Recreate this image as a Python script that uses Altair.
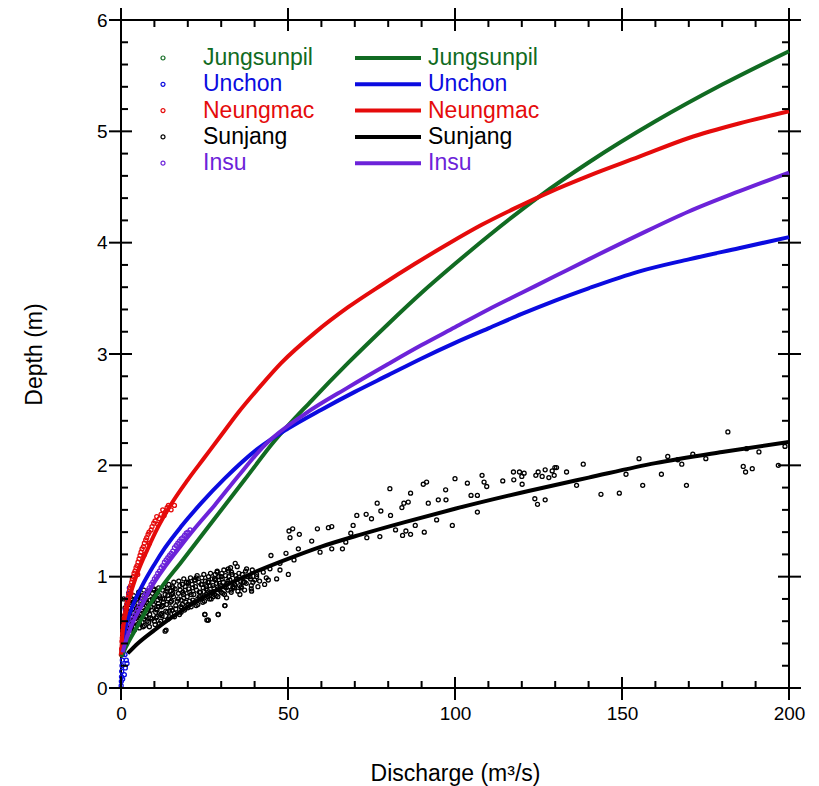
import altair as alt
import pandas as pd

stations = ["Jungsunpil", "Unchon", "Neungmac", "Sunjang", "Insu"]
colors = ["#116b22", "#0b0be0", "#e50b0b", "#000000", "#6c23d9"]

# ---- rating curves (Q in m3/s, depth in m) ----
jun_line_q = [0, 2, 5, 8, 12, 18, 28, 37, 46, 57, 68, 80, 90, 100, 110, 125, 140, 160, 180, 200]
jun_line_h = [0.28, 0.40, 0.56, 0.72, 0.90, 1.13, 1.52, 1.87, 2.22, 2.58, 2.92, 3.27, 3.55, 3.81, 4.06, 4.41, 4.72, 5.09, 5.42, 5.72]

unc_line_q = [0.3, 1, 3, 6.2, 10, 13.2, 18, 24, 31, 41, 50, 60, 70, 80, 90, 100, 110, 120, 130, 140, 155, 170, 185, 200]
unc_line_h = [0.36, 0.50, 0.70, 0.91, 1.11, 1.26, 1.45, 1.66, 1.88, 2.15, 2.33, 2.50, 2.66, 2.81, 2.96, 3.10, 3.23, 3.36, 3.48, 3.59, 3.74, 3.85, 3.95, 4.05]

neu_line_q = [0, 0.5, 1.5, 3, 5, 8, 11, 15, 20, 25, 30, 35, 42, 48, 58, 68, 78, 88, 98, 108, 118, 128, 140, 155, 170, 185, 200]
neu_line_h = [0.30, 0.50, 0.68, 0.86, 1.04, 1.25, 1.44, 1.65, 1.87, 2.07, 2.27, 2.47, 2.72, 2.92, 3.19, 3.42, 3.62, 3.81, 3.99, 4.16, 4.31, 4.45, 4.60, 4.77, 4.94, 5.07, 5.18]

sun_line_q = [2, 5, 10, 15, 20, 30, 40, 50, 60, 72, 85, 100, 122, 140, 160, 180, 200]
sun_line_h = [0.31, 0.40, 0.52, 0.63, 0.73, 0.90, 1.04, 1.16, 1.27, 1.38, 1.49, 1.61, 1.77, 1.89, 2.02, 2.12, 2.21]

ins_line_q = [0.5, 1.2, 3, 6.2, 9, 13.2, 18, 22, 28, 35, 43, 55, 68, 80, 90, 100, 110, 120, 130, 140, 155, 170, 185, 200]
ins_line_h = [0.32, 0.40, 0.55, 0.74, 0.90, 1.09, 1.28, 1.43, 1.64, 1.90, 2.18, 2.46, 2.70, 2.91, 3.08, 3.24, 3.40, 3.55, 3.70, 3.85, 4.07, 4.28, 4.46, 4.63]

# ---- observed points ----
jun_pt_q = [0.3, 0.8, 1.5, 2.5]
jun_pt_h = [0.32, 0.35, 0.40, 0.46]

unc_pt_q = [0.05, 0.1, 0.15, 0.2, 0.3, 0.4, 0.5, 0.3, 0.6, 0.8, 1.0, 0.7, 1.2, 1.5, 1.3, 1.8, 2.0, 2.3, 2.5, 1.0, 1.3, 1.6, 1.2, 1.8, 0.5]
unc_pt_h = [0.02, 0.06, 0.10, 0.15, 0.20, 0.25, 0.30, 0.35, 0.40, 0.45, 0.50, 0.55, 0.60, 0.65, 0.70, 0.75, 0.80, 0.85, 0.90, 0.12, 0.18, 0.25, 0.30, 0.22, 0.08]

neu_pt_q = [0.2, 0.4, 0.6, 0.9, 1.2, 1.5, 1.9, 2.3, 2.7, 3.2, 3.7, 4.2, 4.8, 5.4, 6.0, 6.7, 7.4, 8.1, 9.0, 9.8, 10.7, 11.5, 12.5, 13.3, 14.2, 3.0, 5.0, 7.0, 8.5, 0.1,
            0.3, 0.5, 0.8, 1.0, 1.4, 1.7, 2.1, 2.5, 2.9, 3.4, 3.9, 4.5, 5.1, 5.7, 6.3, 7.0, 7.7, 8.4, 9.3, 10.2, 11.0, 12.0, 12.9, 13.8, 15.0, 16.0]
neu_pt_h = [0.35, 0.45, 0.52, 0.60, 0.66, 0.72, 0.78, 0.84, 0.90, 0.95, 1.00, 1.05, 1.10, 1.16, 1.22, 1.27, 1.33, 1.38, 1.42, 1.48, 1.54, 1.52, 1.60, 1.58, 1.64, 0.85, 1.02, 1.20, 1.30, 0.30,
            0.42, 0.49, 0.56, 0.63, 0.69, 0.75, 0.81, 0.87, 0.92, 0.98, 1.03, 1.08, 1.13, 1.19, 1.25, 1.30, 1.35, 1.40, 1.45, 1.50, 1.47, 1.56, 1.55, 1.62, 1.60, 1.64]

ins_pt_q = [0.5, 1, 1.5, 2, 3, 4, 5, 6, 7, 8, 9, 10, 11, 12, 13, 14, 15, 16, 17, 18, 19, 20, 20.7,
            0.8, 1.3, 2.5, 3.5, 4.5, 5.5, 6.5, 7.5, 8.5, 9.5, 10.5, 11.5, 12.5, 13.5, 14.5, 15.5, 16.5, 17.5, 18.5, 19.5]
ins_pt_h = [0.33, 0.40, 0.46, 0.52, 0.58, 0.65, 0.71, 0.77, 0.83, 0.88, 0.93, 0.98, 1.03, 1.08, 1.13, 1.17, 1.21, 1.26, 1.30, 1.34, 1.37, 1.40, 1.42,
            0.37, 0.43, 0.55, 0.62, 0.68, 0.74, 0.80, 0.85, 0.90, 0.95, 1.00, 1.05, 1.10, 1.15, 1.19, 1.23, 1.28, 1.32, 1.35, 1.39]

sun_low_q = [0.8, 1.2, 1.5, 2.0, 2.3, 2.8, 3.0, 3.3, 3.6, 4.0, 4.2, 4.5, 4.8, 5.0,
             5.5, 5.8, 6.0, 6.3, 6.6, 7.0, 7.3, 7.6, 8.0, 8.3, 8.6, 9.0, 9.4, 9.8,
             10.2, 10.5, 10.8, 11.2, 11.5, 11.9, 12.2, 12.6, 13.0, 13.2, 13.5, 13.8, 14.1, 14.5, 14.8,
             15.2, 15.6, 16.0, 16.4, 16.8, 17.2, 17.6, 18.0, 18.4, 18.8, 19.2, 19.6, 20.0,
             20.5, 21.0, 21.5, 22.0, 22.5, 23.0, 23.5, 24.0, 24.5, 25.0, 25.5, 26.0, 26.5, 27.0, 27.5, 28.0, 28.5, 29.0, 29.5, 30.0,
             30.5, 31.0, 32.0, 33.0, 34.0, 35.0, 36.0, 37.0, 38.0, 39.0, 40.0,
             25.1, 25.7, 29.1, 31.1, 26.1]
sun_low_h = [0.55, 0.62, 0.70, 0.58, 0.66, 0.75, 0.52, 0.60, 0.68, 0.78, 0.55, 0.63, 0.71, 0.82,
             0.58, 0.66, 0.74, 0.80, 0.55, 0.62, 0.70, 0.77, 0.85, 0.59, 0.66, 0.73, 0.80, 0.88,
             0.57, 0.63, 0.70, 0.76, 0.83, 0.60, 0.67, 0.74, 0.80, 0.51, 0.52, 0.87, 0.62, 0.69, 0.77,
             0.84, 0.90, 0.64, 0.71, 0.78, 0.85, 0.92, 0.68, 0.75, 0.81, 0.88, 0.95, 0.72,
             0.78, 0.84, 0.90, 0.97, 0.74, 0.80, 0.86, 0.93, 0.77, 0.83, 0.89, 0.95, 0.80, 0.86, 0.92, 0.98, 0.83, 0.89, 0.94, 1.00,
             0.85, 0.91, 0.96, 0.88, 0.93, 0.98, 0.90, 0.95, 1.00, 0.92, 0.97,
             0.66, 0.61, 0.66, 0.74, 0.61]

sun_dense_q = [1.0, 1.4, 0.7, 1.2, 0.8, 2.5, 2.9, 2.2, 2.7, 2.3, 4.0, 4.4, 3.7, 4.2, 3.8,
               5.5, 5.9, 5.2, 5.7, 5.3, 7.0, 7.4, 6.7, 7.2, 6.8, 8.5, 8.9, 8.2, 8.7, 8.3,
               10.0, 10.4, 9.7, 10.2, 9.8, 11.5, 11.9, 11.2, 11.7, 11.3, 13.0, 13.4, 12.7, 13.2, 12.8,
               14.5, 14.9, 14.2, 14.7, 14.3, 16.0, 16.4, 15.7, 16.2, 15.8, 17.5, 17.9, 17.2, 17.7, 17.3,
               19.0, 19.4, 18.7, 19.2, 18.8, 21.0, 21.5, 20.6, 21.3, 20.8, 23.0, 23.5, 22.6, 23.3, 22.8,
               25.0, 25.5, 24.6, 25.3, 24.8, 27.0, 27.5, 26.6, 27.3, 26.8, 29.0, 29.5, 28.6, 29.3, 28.8,
               31.0, 31.5, 30.6, 31.3, 30.8, 33.0, 33.5, 32.6, 33.3, 32.8, 35.0, 35.5, 34.6, 35.3, 34.8,
               37.0, 37.5, 36.6, 37.3, 39.0, 39.5, 38.6, 39.3, 41.0, 41.5, 40.6, 43.0, 43.5, 42.6]
sun_dense_h = [0.50, 0.57, 0.64, 0.72, 0.80, 0.53, 0.61, 0.69, 0.77, 0.85, 0.52, 0.59, 0.67, 0.74, 0.83,
               0.54, 0.62, 0.70, 0.78, 0.86, 0.56, 0.64, 0.72, 0.80, 0.88, 0.55, 0.63, 0.71, 0.79, 0.87,
               0.60, 0.68, 0.75, 0.82, 0.89, 0.58, 0.66, 0.73, 0.81, 0.90, 0.61, 0.69, 0.77, 0.84, 0.91,
               0.64, 0.72, 0.80, 0.87, 0.93, 0.67, 0.74, 0.82, 0.89, 0.95, 0.66, 0.73, 0.80, 0.88, 0.96,
               0.70, 0.77, 0.84, 0.91, 0.98, 0.73, 0.79, 0.86, 0.93, 0.99, 0.75, 0.82, 0.88, 0.95, 1.01,
               0.78, 0.84, 0.90, 0.96, 1.02, 0.80, 0.86, 0.92, 0.98, 1.03, 0.82, 0.88, 0.94, 1.00, 1.05,
               0.84, 0.90, 0.95, 1.01, 1.06, 0.86, 0.91, 0.97, 1.02, 1.08, 0.87, 0.92, 0.98, 1.03, 1.09,
               0.88, 0.94, 0.99, 1.05, 0.89, 0.95, 1.00, 1.06, 0.91, 0.96, 1.02, 0.93, 0.99, 1.04]

sun_fill_q = [1.8, 2.0, 1.6, 1.9, 3.2, 3.5, 3.0, 3.4, 4.8, 5.0, 4.6, 4.9, 6.3, 6.5, 6.1, 6.4,
              7.8, 8.0, 7.6, 7.9, 9.3, 9.5, 9.1, 9.4, 10.8, 11.0, 10.6, 10.9, 12.3, 12.5, 12.1, 12.4,
              13.8, 14.0, 13.6, 13.9, 15.3, 15.5, 15.1, 15.4, 18.2, 18.5, 18.0, 18.4, 20.0, 20.3, 19.8, 20.2,
              22.0, 22.3, 21.8, 22.2, 24.0, 24.3, 23.8, 24.2, 26.0, 26.3, 25.8, 26.2, 28.0, 28.3, 27.8, 28.2,
              30.0, 30.3, 29.8, 30.2, 32.0, 32.3, 31.8, 32.2, 34.0, 34.3, 33.8, 36.0, 36.3, 35.8]
sun_fill_h = [0.54, 0.68, 0.61, 0.76, 0.56, 0.71, 0.64, 0.79, 0.57, 0.73, 0.65, 0.80, 0.59, 0.75, 0.67, 0.83,
              0.60, 0.76, 0.68, 0.84, 0.62, 0.78, 0.70, 0.85, 0.64, 0.79, 0.71, 0.86, 0.65, 0.80, 0.73, 0.88,
              0.68, 0.83, 0.75, 0.89, 0.70, 0.85, 0.78, 0.91, 0.72, 0.86, 0.79, 0.93, 0.75, 0.89, 0.82, 0.95,
              0.77, 0.91, 0.84, 0.97, 0.80, 0.93, 0.86, 0.99, 0.82, 0.95, 0.88, 1.00, 0.84, 0.97, 0.90, 1.02,
              0.86, 0.98, 0.92, 1.03, 0.88, 1.00, 0.94, 1.05, 0.90, 1.01, 0.95, 0.91, 1.02, 0.96]

sun_mid_q = [70.6, 69.5, 63.1, 62.1, 58.8, 57.1, 53.4, 51.4, 50.3, 50.6, 53.1, 59.6, 63.1, 66.3, 67.3, 68.8,
             44.9, 49.4, 51.8, 47.6, 47.6, 50.1, 44.6, 34.2, 32.1, 33.1, 28.8, 37.6, 40.6, 46.6, 44.1,
             38.8, 36.6, 31.1, 25.1, 26.1, 29.1, 22.5, 20.1, 25.6, 33.6, 39.1, 35.6, 27.6, 31.6, 23.6]
sun_mid_h = [1.55, 1.46, 1.45, 1.44, 1.43, 1.32, 1.38, 1.43, 1.41, 1.35, 1.25, 1.22, 1.25, 1.25, 1.31, 1.39,
             1.19, 1.21, 1.15, 1.12, 1.06, 1.02, 1.07, 1.12, 1.07, 1.04, 1.04, 1.07, 1.00, 0.98, 0.97,
             0.98, 0.95, 0.74, 0.66, 0.61, 0.66, 0.99, 0.94, 0.91, 0.90, 0.87, 0.84, 0.82, 0.81, 0.81]

sun_high_q = [73.6, 77.5, 73.4, 75.0, 76.7, 77.8, 80.5, 80.7, 82.2, 84.1, 84.7, 86.0, 86.7, 84.3, 85.3, 86.7,
              88.1, 90.5, 91.5, 90.8, 92.0, 94.5, 95.0, 97.2, 97.3, 99.2, 100.0, 103.7, 104.8, 106.7, 106.7,
              108.1, 108.7, 109.5, 114.3, 117.5, 117.6, 119.3, 120.0, 120.1, 120.7, 123.9, 124.7, 127.0,
              124.2, 124.9, 126.1, 127.0, 128.1, 129.1, 129.7, 129.9, 130.4, 133.4, 136.4, 138.4, 143.7,
              149.2, 151.2, 155.1, 156.2, 161.8, 163.7, 166.7, 167.9, 169.3, 171.2, 175.1, 181.7, 186.3,
              187.0, 187.3, 189.0, 191.0, 196.8, 198.8]
sun_high_h = [1.35, 1.36, 1.56, 1.52, 1.66, 1.59, 1.79, 1.55, 1.42, 1.62, 1.66, 1.67, 1.75, 1.37, 1.41, 1.38,
              1.46, 1.83, 1.85, 1.40, 1.66, 1.51, 1.69, 1.78, 1.69, 1.46, 1.88, 1.84, 1.73, 1.73, 1.58,
              1.91, 1.85, 1.81, 1.86, 1.94, 1.87, 1.94, 1.90, 1.83, 1.93, 1.70, 1.65, 1.69,
              1.91, 1.94, 1.90, 1.96, 1.89, 1.95, 1.91, 1.98, 1.98, 1.94, 1.82, 2.01, 1.74,
              1.75, 1.92, 2.06, 1.82, 1.92, 2.08, 2.05, 2.01, 1.82, 2.10, 2.06, 2.30, 1.99,
              1.94, 2.15, 1.97, 2.12, 2.00, 2.17]

x_major = [0, 50, 100, 150, 200]
x_minor = [10, 20, 30, 40, 60, 70, 80, 90, 110, 120, 130, 140, 160, 170, 180, 190]
y_major = [0, 1, 2, 3, 4, 5, 6]
y_minor = [0.2, 0.4, 0.6, 0.8, 1.2, 1.4, 1.6, 1.8, 2.2, 2.4, 2.6, 2.8, 3.2, 3.4, 3.6, 3.8,
           4.2, 4.4, 4.6, 4.8, 5.2, 5.4, 5.6, 5.8]

# ---- tables ----
def table(name, q, h):
    return pd.DataFrame({"station": name, "Q": q, "h": h})

lines_df = pd.concat([
    table("Jungsunpil", jun_line_q, jun_line_h),
    table("Unchon", unc_line_q, unc_line_h),
    table("Neungmac", neu_line_q, neu_line_h),
    table("Sunjang", sun_line_q, sun_line_h),
    table("Insu", ins_line_q, ins_line_h),
], ignore_index=True)

points_df = pd.concat([
    table("Sunjang", sun_low_q, sun_low_h),
    table("Sunjang", sun_dense_q, sun_dense_h),
    table("Sunjang", sun_fill_q, sun_fill_h),
    table("Sunjang", sun_mid_q, sun_mid_h),
    table("Sunjang", sun_high_q, sun_high_h),
    table("Jungsunpil", jun_pt_q, jun_pt_h),
    table("Unchon", unc_pt_q, unc_pt_h),
    table("Insu", ins_pt_q, ins_pt_h),
    table("Neungmac", neu_pt_q, neu_pt_h),
], ignore_index=True)

W, H = 668, 668
FONT = "Liberation Sans"

xs = alt.Scale(domain=[0, 200], nice=False, zero=False)
ys = alt.Scale(domain=[0, 6], nice=False, zero=False)
xaxis = alt.Axis(title="Discharge (m³/s)", values=x_major, ticks=False, domain=False, grid=False,
                 labelPadding=16, labelFontSize=19, titleFontSize=23, titlePadding=39,
                 labelFont=FONT, titleFont=FONT, labelColor="black", titleColor="black",
                 titleFontWeight="normal", labelFlush=False, format="d")
yaxis = alt.Axis(title="Depth (m)", values=y_major, ticks=False, domain=False, grid=False,
                 labelPadding=14, labelFontSize=19, titleFontSize=23, titlePadding=50,
                 labelFont=FONT, titleFont=FONT, labelColor="black", titleColor="black",
                 titleFontWeight="normal", labelFlush=False, format="d")

X = alt.X("Q:Q", scale=xs, axis=xaxis)
Y = alt.Y("h:Q", scale=ys, axis=yaxis)
color = alt.Color("station:N", scale=alt.Scale(domain=stations, range=colors), legend=None)

points = alt.Chart(points_df).mark_point(shape="circle", filled=False, size=16, strokeWidth=1.3, opacity=1).encode(
    x=X, y=Y, color=color)

lines = alt.Chart(lines_df).mark_line(strokeWidth=4, interpolate="monotone").encode(
    x=X, y=Y, color=color, detail="station:N")

xmaj_df = pd.DataFrame({"Q": x_major})
xmin_df = pd.DataFrame({"Q": x_minor})
ymaj_df = pd.DataFrame({"h": y_major})
ymin_df = pd.DataFrame({"h": y_minor})

tick_layers = [
    alt.Chart(xmaj_df).mark_rule(color="black", strokeWidth=2).encode(x=X, y=alt.value(H - 11), y2=alt.value(H + 12)),
    alt.Chart(xmaj_df).mark_rule(color="black", strokeWidth=2).encode(x=X, y=alt.value(-12), y2=alt.value(11)),
    alt.Chart(xmin_df).mark_rule(color="black", strokeWidth=2).encode(x=X, y=alt.value(H - 7), y2=alt.value(H)),
    alt.Chart(xmin_df).mark_rule(color="black", strokeWidth=2).encode(x=X, y=alt.value(0), y2=alt.value(7)),
    alt.Chart(ymaj_df).mark_rule(color="black", strokeWidth=2).encode(y=Y, x=alt.value(-12), x2=alt.value(11)),
    alt.Chart(ymaj_df).mark_rule(color="black", strokeWidth=2).encode(y=Y, x=alt.value(W - 11), x2=alt.value(W + 12)),
    alt.Chart(ymin_df).mark_rule(color="black", strokeWidth=2).encode(y=Y, x=alt.value(0), x2=alt.value(7)),
    alt.Chart(ymin_df).mark_rule(color="black", strokeWidth=2).encode(y=Y, x=alt.value(W - 7), x2=alt.value(W)),
]

legend_layers = []
for i, (name, col) in enumerate(zip(stations, colors)):
    ry = 38 + i * 26.3
    one = pd.DataFrame({"station": [name]})
    legend_layers.append(alt.Chart(one).mark_point(shape="circle", filled=False, size=16, strokeWidth=1.2,
                                                   opacity=1, color=col).encode(x=alt.value(42), y=alt.value(ry)))
    legend_layers.append(alt.Chart(one).mark_text(align="left", baseline="middle", font=FONT, fontSize=23,
                                                  color=col).encode(x=alt.value(82), y=alt.value(ry), text="station:N"))
    legend_layers.append(alt.Chart(one).mark_rule(strokeWidth=4, color=col).encode(
        x=alt.value(234), x2=alt.value(300), y=alt.value(ry)))
    legend_layers.append(alt.Chart(one).mark_text(align="left", baseline="middle", font=FONT, fontSize=23,
                                                  color=col).encode(x=alt.value(307), y=alt.value(ry), text="station:N"))

chart = alt.layer(points, lines, *tick_layers, *legend_layers).properties(
    width=W, height=H,
    padding={"left": 121, "top": 20, "right": 30, "bottom": 98},
    autosize=alt.AutoSizeParams(type="none"),
    background="white",
).configure_view(stroke="black", strokeWidth=2)

chart.save("out.html", embed_options={"renderer": "svg", "actions": False})
